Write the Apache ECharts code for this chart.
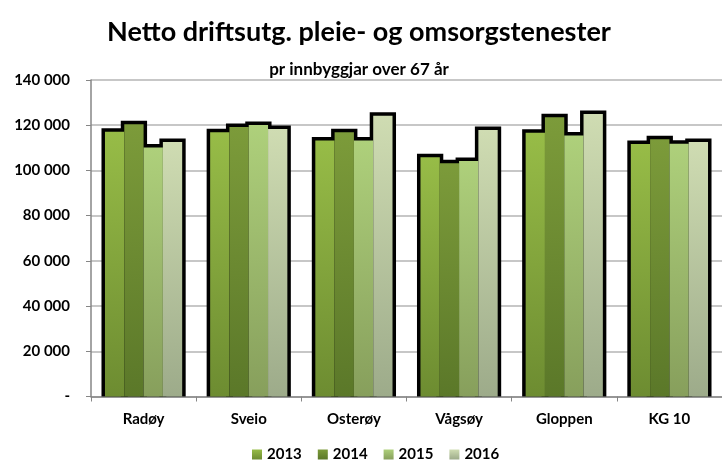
<!DOCTYPE html>
<html>
<head>
<meta charset="utf-8">
<script src="https://cdn.jsdelivr.net/npm/echarts@6/dist/echarts.min.js"></script>
<style>
  html, body { margin: 0; padding: 0; background: #fff; }
  #chart { width: 722px; height: 463px; }
</style>
</head>
<body>
<div id="chart"></div>
<script>
const kommuner = ['Radøy', 'Sveio', 'Osterøy', 'Vågsøy', 'Gloppen', 'KG 10']
const years = ['2013', '2014', '2015', '2016']
const v2013 = [117100, 116900, 113200, 105800, 116700, 111700]
const v2014 = [120400, 119200, 116900, 103200, 123500, 113800]
const v2015 = [110100, 120100, 113200, 104200, 115400, 111800]
const v2016 = [112600, 118300, 124200, 117900, 125000, 112600]
const yTicks = [0, 20000, 40000, 60000, 80000, 100000, 120000, 140000]

const values = [v2013, v2014, v2015, v2016]
// top / bottom colour of each bar gradient
const colors = [
  ['#97bc47', '#6d8c31'],
  ['#7c9b3a', '#5b7829'],
  ['#aed07b', '#879f5c'],
  ['#cfdcb2', '#9dab8a']
]
const FONT = 'Lato'
const BAR_W = 19.3
const EDGE = 3.5

function grad (c) {
  return new echarts.graphic.LinearGradient(0, 0, 0, 1, [
    { offset: 0, color: c[0] },
    { offset: 1, color: c[1] }
  ])
}

// one row per category: [index, 2013, 2014, 2015, 2016]
const outlineData = kommuner.map((k, i) => [i, v2013[i], v2014[i], v2015[i], v2016[i]])

const series = [{
  name: 'outline',
  type: 'custom',
  silent: true,
  z: 1,
  data: outlineData,
  renderItem: function (params, api) {
    const cat = api.value(0)
    const base = api.coord([cat, 0])
    const children = []
    for (let s = 0; s < years.length; s++) {
      const top = api.coord([cat, api.value(s + 1)])
      const x = base[0] + (s - 2) * BAR_W
      children.push({
        type: 'rect',
        shape: { x: x - EDGE, y: top[1] - EDGE, width: BAR_W + EDGE * 2, height: base[1] - top[1] + EDGE },
        style: { fill: '#000' }
      })
    }
    return { type: 'group', children: children }
  }
}]
for (let i = 0; i < years.length; i++) {
  series.push({
    name: years[i],
    type: 'bar',
    barWidth: BAR_W,
    barGap: '0%',
    z: 3,
    itemStyle: { color: grad(colors[i]) },
    data: values[i]
  })
}

const chart = echarts.init(document.getElementById('chart'))
chart.setOption({
  animation: false,
  backgroundColor: '#fff',
  title: [
    {
      text: 'Netto driftsutg. pleie- og omsorgstenester',
      left: 354,
      top: 14,
      textAlign: 'center',
      textStyle: { fontFamily: FONT, fontWeight: 'bold', fontSize: 27, color: '#000' }
    },
    {
      text: 'pr innbyggjar over 67 år',
      left: 354,
      top: 56,
      textAlign: 'center',
      textStyle: { fontFamily: FONT, fontWeight: 'bold', fontSize: 17, color: '#000' }
    }
  ],
  legend: {
    data: years,
    left: 247,
    bottom: -4,
    itemWidth: 10,
    itemHeight: 10,
    itemGap: 16,
    icon: 'rect',
    textStyle: { fontFamily: FONT, fontWeight: 'bold', fontSize: 15, color: '#000' }
  },
  grid: { left: 91, right: -9.3, top: 80, bottom: 66.5 },
  xAxis: {
    type: 'category',
    data: kommuner,
    axisLine: { lineStyle: { color: '#868686', width: 1.5 } },
    axisTick: { show: true, length: 5, lineStyle: { color: '#868686' } },
    axisLabel: { margin: 15, fontFamily: FONT, fontWeight: 'bold', fontSize: 15, color: '#000' }
  },
  yAxis: {
    type: 'value',
    min: 0,
    max: 140000,
    interval: 20000,
    axisLine: { show: true, lineStyle: { color: '#868686', width: 1.5 } },
    axisTick: { show: true, length: 5, lineStyle: { color: '#868686' } },
    splitLine: { lineStyle: { color: '#b4b4b4', width: 1.5 } },
    axisLabel: {
      margin: 21,
      fontFamily: FONT,
      fontWeight: 'bold',
      fontSize: 15,
      color: '#000',
      formatter: function (v) {
        if (yTicks.indexOf(v) < 0) return ''
        if (v === 0) return '-'
        return String(v).replace(/\B(?=(\d{3})+(?!\d))/g, ' ')
      }
    }
  },
  series: series
})
</script>
</body>
</html>
